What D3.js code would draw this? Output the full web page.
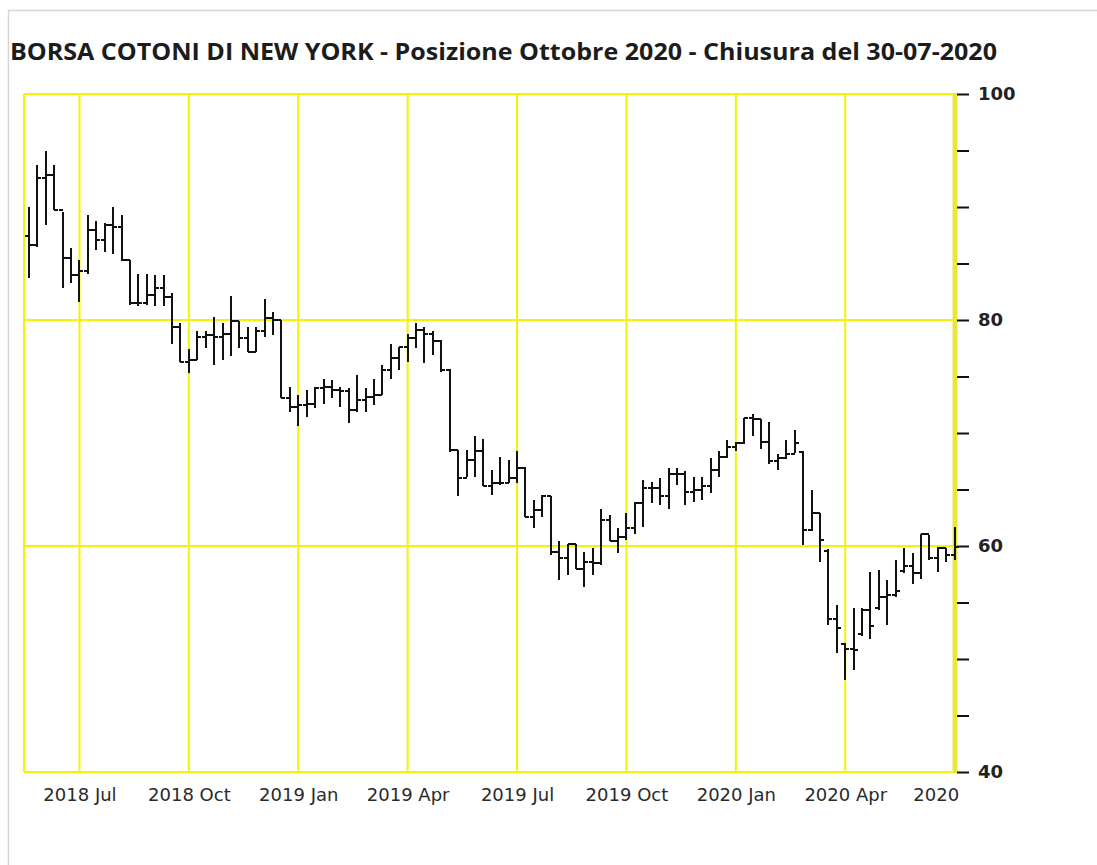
<!DOCTYPE html>
<html><head><meta charset="utf-8">
<script src="https://cdn.jsdelivr.net/npm/d3@7"></script>
<style>html,body{margin:0;padding:0;background:#fff;overflow:hidden}</style>
</head>
<body><svg id="c" width="1097" height="865"></svg>
<script>
const title = "BORSA COTONI DI NEW YORK - Posizione Ottobre 2020 - Chiusura del 30-07-2020";
const periodLabels = ["2018 Jul","2018 Oct","2019 Jan","2019 Apr","2019 Jul","2019 Oct","2020 Jan","2020 Apr","2020"];
const yLabelValues = [40, 60, 80, 100];
const yMinorValues = [40,45,50,55,60,65,70,75,80,85,90,95,100];

// weekly OHLC, May 2018 - Jul 2020
const opens = [87.4,86.6,92.6,92.8,89.7,85.5,84.0,84.3,88.0,87.1,
88.4,88.2,85.3,81.5,81.5,82.2,82.8,82.0,79.4,76.3,
76.5,78.5,78.7,78.5,78.8,79.9,78.4,77.2,79.0,80.2,
80.0,73.1,72.3,72.5,72.6,74.0,74.1,73.8,73.7,72.0,
72.9,73.2,73.4,75.6,76.6,77.6,78.4,79.1,78.8,78.1,
75.6,68.5,66.0,67.6,68.4,65.3,65.6,65.6,66.0,66.9,
62.6,63.2,64.4,59.5,58.9,60.2,58.0,58.6,58.5,62.3,
60.4,60.8,61.6,63.8,65.1,65.1,64.4,66.4,66.4,64.8,
65.0,65.3,66.7,67.9,68.8,69.1,71.3,71.2,69.2,67.5,
67.8,68.1,68.3,61.4,62.9,59.6,53.5,51.3,50.9,52.2,
54.3,54.5,55.5,55.7,57.8,58.2,57.6,61.1,58.9,59.8,59.2];
const highs = [90.0,93.7,95.0,93.7,89.6,86.4,85.3,89.3,88.8,88.6,
90.0,89.3,85.3,84.1,84.1,84.0,84.0,82.4,79.7,77.4,
79.0,79.0,80.3,79.7,82.1,79.9,79.4,79.4,81.9,80.7,
80.0,74.1,73.4,73.8,74.1,74.8,74.7,74.1,74.0,75.1,
74.0,74.8,76.0,77.9,77.6,78.8,79.7,79.4,79.0,78.2,
75.7,68.5,68.5,69.7,69.5,66.7,67.9,67.6,68.4,67.0,
64.1,64.5,64.4,60.4,60.2,60.2,59.5,59.8,63.3,62.7,
61.6,62.9,63.9,65.8,65.7,66.0,66.9,66.9,66.6,66.1,
66.1,67.8,68.4,69.4,69.2,71.3,71.7,71.2,71.0,68.1,
69.4,70.3,68.4,65.0,62.9,59.7,54.8,51.4,54.5,54.5,
57.7,57.9,57.0,58.8,59.8,59.4,61.1,61.0,59.9,59.8,61.7];
const lows = [83.7,86.5,88.4,89.7,82.8,83.3,81.6,84.1,86.2,86.0,
85.8,85.2,81.3,81.2,81.3,81.2,81.2,77.9,76.3,75.3,
76.5,77.5,76.0,76.5,76.8,77.5,77.2,77.2,78.5,78.7,
73.1,71.9,70.6,71.4,72.2,72.6,73.1,72.3,70.9,71.9,
71.9,72.5,73.4,74.8,75.6,76.3,77.5,76.2,76.9,75.4,
68.3,64.4,66.1,66.1,65.3,64.5,65.4,65.6,65.6,62.6,
61.6,62.6,59.2,57.0,57.4,58.0,56.4,57.4,58.3,60.4,
59.4,60.5,61.1,61.7,63.8,63.6,63.3,65.4,63.6,63.9,
64.1,64.7,66.1,67.8,68.4,69.0,69.7,68.6,67.3,66.7,
67.7,68.2,60.1,61.3,58.6,53.0,50.5,48.1,49.0,52.0,
51.8,54.3,53.0,55.5,57.6,56.6,57.1,58.8,57.7,58.6,58.8];
const closes = [86.6,92.6,92.8,89.7,85.5,84.0,84.3,88.0,87.1,88.4,
88.2,85.3,81.5,81.5,82.2,82.8,82.0,79.4,76.3,76.5,
78.5,78.7,78.5,78.8,79.9,78.4,77.2,79.0,80.2,80.0,
73.1,72.3,72.5,72.6,74.0,74.1,73.8,73.7,72.0,72.9,
73.2,73.4,75.6,76.6,77.6,78.4,79.1,78.8,78.1,75.6,
68.5,66.0,67.6,68.4,65.3,65.6,65.6,66.0,66.9,62.6,
63.2,64.4,59.5,58.9,60.2,58.0,58.6,58.5,62.3,60.4,
60.8,61.6,63.8,65.1,65.1,64.4,66.4,66.4,64.8,65.0,
65.3,66.7,67.9,68.8,69.1,71.3,71.2,69.2,67.5,67.8,
68.1,69.1,61.4,62.9,60.5,53.5,52.7,50.9,50.8,54.3,
52.9,55.5,55.7,56.0,58.2,57.6,61.1,58.9,59.8,59.2,59.9];

const bars = closes.map((c, i) => ({i, o: opens[i], h: highs[i], l: lows[i], c}));
const svg = d3.select("#c");

const plotLeft = 24, plotRight = 955, plotTop = 94, plotBottom = 772;
const x = d3.scaleLinear().domain([0, closes.length - 1]).range([29, 954.6]);
const y = d3.scaleLinear().domain([40, 100]).range([plotBottom, plotTop]);
const labelIdx = periodLabels.map((d, k) => 6 + 13 * k);

// outer frame
svg.append("rect").attr("x", 8.5).attr("y", 10.5).attr("width", 1200).attr("height", 1000)
  .attr("fill", "none").attr("stroke", "#d6d6d6").attr("stroke-width", 1.5);

// title
svg.append("text").attr("x", 10).attr("y", 60)
  .attr("font-family", "'Open Sans', 'Noto Sans', sans-serif").attr("font-weight", 700)
  .attr("font-size", 24).attr("textLength", 987).attr("lengthAdjust", "spacingAndGlyphs")
  .attr("fill", "#1c1c1c").text(title);

// grid
const grid = svg.append("g").attr("stroke", "#f4f400").attr("stroke-width", 2).attr("fill", "none");
grid.selectAll("line.h").data(yLabelValues).join("line")
  .attr("x1", plotLeft).attr("x2", plotRight).attr("y1", d => y(d)).attr("y2", d => y(d));
grid.selectAll("line.v").data(labelIdx.slice(0, -1)).join("line")
  .attr("x1", d => x(d)).attr("x2", d => x(d)).attr("y1", plotTop).attr("y2", plotBottom);
grid.append("line").attr("x1", plotLeft).attr("x2", plotLeft).attr("y1", plotTop).attr("y2", plotBottom);
svg.append("line").attr("x1", plotRight).attr("x2", plotRight).attr("y1", plotTop - 1).attr("y2", plotBottom + 1)
  .attr("stroke", "#e8e83c").attr("stroke-width", 5);

// right axis
const yAxis = d3.axisRight(y).tickValues(yMinorValues).tickSize(12).tickPadding(9)
  .tickFormat(d => yLabelValues.includes(d) ? d : "");
const ya = svg.append("g").attr("transform", `translate(${plotRight + 2},0)`).call(yAxis);
ya.select(".domain").remove();
ya.selectAll(".tick line").attr("stroke", "#111").attr("stroke-width", 2);
ya.selectAll(".tick text").attr("font-family", "'DejaVu Sans', Verdana, sans-serif")
  .attr("font-weight", 700).attr("font-size", 18).attr("fill", "#222");

// bottom axis
const xAxis = d3.axisBottom(x).tickValues(labelIdx).tickSize(0).tickPadding(16)
  .tickFormat((d, k) => periodLabels[k]);
const xa = svg.append("g").attr("transform", `translate(0,${plotBottom})`).call(xAxis);
xa.select(".domain").remove();
xa.selectAll(".tick text").attr("font-family", "'DejaVu Sans', Verdana, sans-serif")
  .attr("font-size", 18).attr("fill", "#2a2a2a")
  .attr("text-anchor", (d, k) => k === periodLabels.length - 1 ? "end" : "middle")
  .attr("dx", (d, k) => k === periodLabels.length - 1 ? 4 : 0);

// OHLC bars
const g = svg.append("g").attr("stroke", "#111").attr("stroke-width", 2).attr("shape-rendering", "crispEdges");
const bg = g.selectAll("g.bar").data(bars).join("g");
bg.append("line").attr("x1", d => x(d.i)).attr("x2", d => x(d.i)).attr("y1", d => y(d.h)).attr("y2", d => y(d.l));
bg.append("line").attr("x1", d => x(d.i) - 4).attr("x2", d => x(d.i)).attr("y1", d => y(d.o)).attr("y2", d => y(d.o));
bg.append("line").attr("x1", d => x(d.i)).attr("x2", d => x(d.i) + 4).attr("y1", d => y(d.c)).attr("y2", d => y(d.c));
</script>
</body></html>
